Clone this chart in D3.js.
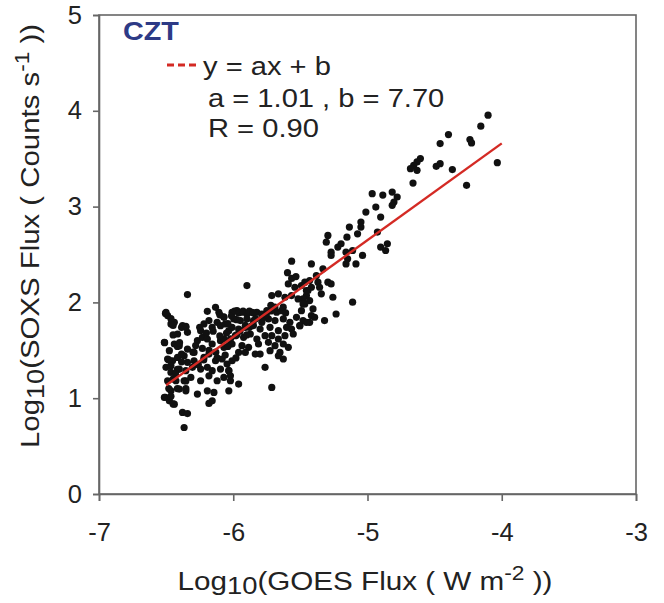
<!DOCTYPE html>
<html>
<head>
	<meta charset="utf-8">
	<title>SOXS vs GOES flux</title>
	<style type="text/css">
	body{
		margin:0;
		background:#fff;
	}
	text{
		font-family:"Liberation Sans", Arial, sans-serif;
		fill:#222;
	}
	</style>
	<script type="text/javascript" src="https://cdn.jsdelivr.net/npm/d3@7"></script>
</head>
<body>
<script type="text/javascript">
	var width = 664;
	var height = 603;

	// log10 GOES flux (W m^-2)
	var goesLog = [
		// sparse upper part
		-4.102,-4.156,-4.397,-4.459,-4.237,-4.225,-4.033,-4.368,-4.262,-4.459,-4.488,-4.606,-4.631,-4.656,-4.680,-4.631,-4.661,-4.816,-4.779,-4.803,-4.816,
		-4.938,-5.012,-4.902,-5.049,-5.049,-5.135,-5.074,-5.295,-5.307,-5.153,-5.197,-5.221,-5.271,-5.271,-5.160,-5.111,-5.148,-5.160,-5.086,-5.037,-4.926,-4.902,-4.852,-4.865,
		-5.418,-5.332,-5.381,-5.467,-5.431,-5.418,-5.443,-5.455,-5.431,-5.467,-5.492,-5.369,-5.357,-5.344,-5.295,-5.271,-5.258,-5.111,-5.406,-5.418,-5.394,-5.320,-5.431,-5.504,-5.234,-5.480,
		-4.965,-4.886,-5.565,-5.596,-5.565,-5.533,
		// left part of the cloud
		-6.341,-6.501,-6.489,-6.132,-6.193,-6.107,-6.070,-6.439,-6.378,-6.353,-6.341,-6.415,-6.464,-6.513,-6.439,-6.402,-6.476,-6.341,-6.292,-6.243,
		-6.218,-6.181,-6.157,-6.120,-6.095,-6.058,-6.033,-6.267,-6.230,-6.193,-6.157,-6.095,-6.070,-6.021,-6.489,-6.452,-6.415,-6.366,-6.341,-6.292,
		-6.218,-6.181,-6.132,-6.083,-6.046,-6.501,-6.464,-6.402,-6.353,-6.304,-6.243,-6.193,-6.157,-6.095,-6.033,-6.489,-6.427,-6.366,-6.316,-6.243,
		-6.181,-6.120,-6.070,-6.021,-6.464,-6.402,-6.353,-6.267,-6.193,-6.144,-6.033,-6.513,-6.476,-6.439,-6.378,-6.341,-6.181,-6.157,-6.366,
		-6.505,-6.464,-6.448,-6.480,-6.464,-6.416,-6.385,-6.448,-6.353,-6.385,-6.416,-6.448,-6.385,-6.353,-6.511,-6.505,-6.480,-6.416,-6.353,-6.464,-6.448,
		// middle part of the cloud
		-5.898,-5.590,-5.541,-5.492,-5.455,-5.713,-5.664,-5.615,-5.566,-5.517,-5.480,-6.009,-5.972,-5.935,-5.898,-5.861,-5.824,-5.787,-5.750,-5.713,
		-5.677,-5.640,-5.996,-5.947,-5.898,-5.849,-5.787,-5.738,-5.689,-5.627,-5.578,-5.529,-5.480,-6.009,-5.960,-5.910,-5.861,-5.800,-5.726,-5.664,
		-5.603,-5.566,-5.504,-5.455,-5.984,-5.923,-5.873,-5.824,-5.763,-5.713,-5.664,-5.615,-5.553,-6.009,-5.935,-5.886,-5.812,-5.738,-5.689,-5.627,
		-5.590,-5.960,-5.910,-5.836,-5.726,-5.652,-5.627,-6.009,-5.800,-5.664,-5.763,-5.713,-5.960,-6.033,-6.021,
		-6.013,-5.990,-5.960,-5.927,-5.880,-5.850,-5.833,-5.975,-6.040,-6.070,-6.100,-5.910,-5.880,-5.785,-5.754,-5.720,-5.690,-5.720,-5.628,-5.610,
		-5.975,-6.020,-6.070,-6.040,
		// extra points in the dense core
		-6.250,-6.200,-6.150,-6.100,-6.050,-6.280,-6.230,-6.180,-6.130,-5.950,-5.900,-5.850,-6.300,-6.260,-6.220,-6.120,-6.060,-5.980,-6.400,-6.430
	];
	// log10 SOXS flux (counts s^-1), same order
	var soxsLog = [
		3.954,3.839,3.752,3.658,3.700,3.665,3.459,3.386,3.222,3.448,3.420,3.501,3.466,3.431,3.396,3.379,3.246,3.152,3.100,3.048,3.013,
		2.995,2.943,2.891,2.838,2.786,2.786,2.716,2.699,2.629,2.681,2.612,2.577,2.524,2.490,2.524,2.542,2.455,2.402,2.402,2.490,2.734,2.577,2.612,2.542,
		2.402,2.350,2.280,2.211,2.228,2.158,2.124,2.071,2.019,1.984,1.914,2.211,2.158,2.089,2.211,2.193,2.054,2.002,1.932,1.862,1.845,1.810,1.792,1.757,1.879,2.036,
		3.135,3.120,2.430,2.310,2.250,2.270,
		2.082,1.897,1.862,1.949,1.907,1.897,1.844,1.792,1.757,1.740,1.688,1.670,1.775,1.583,1.566,1.548,1.496,1.513,1.478,1.705,
		1.775,1.810,1.740,1.792,1.757,1.775,1.705,1.600,1.635,1.618,1.566,1.600,1.531,1.566,1.409,1.391,1.426,1.443,1.374,1.391,
		1.426,1.461,1.391,1.409,1.356,1.322,1.269,1.304,1.287,1.322,1.304,1.322,1.287,1.304,1.287,1.182,1.182,1.182,1.217,1.182,
		1.234,1.182,1.217,1.182,1.077,1.095,1.077,1.043,1.077,1.060,1.077,1.008,0.973,0.938,0.851,0.840,0.945,0.973,0.694,
		1.885,1.830,1.760,1.400,1.340,1.300,1.380,1.200,1.180,1.460,1.540,1.660,1.740,1.750,1.580,1.010,1.100,1.100,1.100,1.020,0.940,
		2.176,2.193,2.158,2.176,2.123,2.071,2.089,2.054,2.071,2.036,1.984,1.897,1.914,1.897,1.879,1.897,1.897,1.879,1.914,1.932,
		1.897,1.914,1.827,1.810,1.827,1.810,1.792,1.827,1.810,1.827,1.792,1.844,1.810,1.740,1.722,1.740,1.757,1.722,1.740,1.705,
		1.740,1.722,1.757,1.792,1.653,1.635,1.670,1.618,1.653,1.653,1.618,1.653,1.670,1.566,1.548,1.531,1.566,1.583,1.548,1.566,
		1.531,1.478,1.478,1.461,1.496,1.478,1.409,1.391,1.461,1.443,1.322,1.112,1.147,1.287,1.234,
		1.860,1.910,1.890,1.910,1.910,1.890,1.830,1.820,1.780,1.850,1.870,1.760,1.740,1.830,1.870,1.910,1.950,1.970,1.950,1.890,
		1.660,1.620,1.620,1.540,
		1.740,1.680,1.700,1.650,1.680,1.550,1.520,1.500,1.480,1.700,1.660,1.760,1.480,1.350,1.400,1.420,1.450,1.420,1.580,1.250
	];

	// fit from the legend
	var fitA = 1.01, fitB = 7.70;
	var fitX = [-6.5, -4.0];
	var xTicks = [-7, -6, -5, -4, -3];
	var yTicks = [0, 1, 2, 3, 4, 5];

	var margin = {left:99, right:28, top:15, bottom:109};
	var plotW = width - margin.left - margin.right;
	var plotH = height - margin.top - margin.bottom;

	var svg = d3.select("body")
				.append("svg")
				.attr("width", width)
				.attr("height", height);

	var x = d3.scaleLinear().domain([-7, -3]).range([0, plotW]);
	var y = d3.scaleLinear().domain([0, 5]).range([plotH, 0]);

	var g = svg.append("g")
			.attr("transform", "translate(" + margin.left + "," + margin.top + ")");

	//frame
	g.append("rect")
		.attr("width", plotW)
		.attr("height", plotH)
		.attr("fill", "none")
		.attr("stroke", "#666")
		.attr("stroke-width", 1.6);

	var xAxis = g.append("g")
		.attr("transform", "translate(0," + plotH + ")")
		.call(d3.axisBottom(x).tickValues(xTicks).tickSize(7).tickPadding(22).tickFormat(function(d){ return String(d); }));
	var yAxis = g.append("g")
		.call(d3.axisLeft(y).tickValues(yTicks).tickSize(6).tickPadding(11).tickFormat(function(d){ return String(d); }));

	[xAxis, yAxis].forEach(function(a){
		a.select(".domain").attr("stroke", "#666").attr("stroke-width", 1.6);
		a.selectAll(".tick line").attr("stroke", "#666").attr("stroke-width", 1.6);
		a.selectAll(".tick text")
			.style("font-family", "'Liberation Sans', Arial, sans-serif")
			.style("font-size", "25.5px")
			.attr("fill", "#222");
	});

	//points
	g.append("g")
		.selectAll("circle")
		.data(d3.range(goesLog.length))
		.enter()
		.append("circle")
		.attr("cx", function(i){ return x(goesLog[i]); })
		.attr("cy", function(i){ return y(soxsLog[i]); })
		.attr("r", 3.6)
		.attr("fill", "#111");

	//fit line
	g.append("line")
		.attr("x1", x(fitX[0])).attr("y1", y(fitA*fitX[0] + fitB))
		.attr("x2", x(fitX[1])).attr("y2", y(fitA*fitX[1] + fitB))
		.attr("stroke", "#d42a24")
		.attr("stroke-width", 2.4);

	// text is a bit wider in the original, so stretch it horizontally
	function wideText(tf, sx, size, anchor){
		return svg.append("g")
			.attr("transform", tf + " scale(" + sx + ",1)")
			.append("text")
			.attr("text-anchor", anchor || "start")
			.style("font-size", size + "px");
	}

	//legend
	wideText("translate(123,40)", 1.15, 25)
		.style("font-weight", "bold")
		.style("fill", "#2d3a86")
		.text("CZT");
	svg.append("line")
		.attr("x1", 167).attr("x2", 197).attr("y1", 65).attr("y2", 65)
		.attr("stroke", "#d42a24")
		.attr("stroke-width", 3)
		.attr("stroke-dasharray", "7,4");
	wideText("translate(203,75)", 1.12, 26).text("y = ax + b");
	wideText("translate(208,107)", 1.12, 26).text("a = 1.01 , b = 7.70");
	wideText("translate(208,137)", 1.12, 26).text("R = 0.90");

	//axis titles
	var xt = wideText("translate(365,590)", 1.14, 26, "middle");
	xt.append("tspan").text("Log");
	xt.append("tspan").attr("dy", 4).style("font-size", "24px").text("10");
	xt.append("tspan").attr("dy", -4).text("(GOES Flux ( W m");
	xt.append("tspan").attr("dy", -10).style("font-size", "20px").text("-2");
	xt.append("tspan").attr("dy", 10).text(" ))");

	var yt = wideText("translate(39,236) rotate(-90)", 1.13, 26, "middle");
	yt.append("tspan").text("Log");
	yt.append("tspan").attr("dy", 5).style("font-size", "24px").text("10");
	yt.append("tspan").attr("dy", -5).text("(SOXS Flux ( Counts s");
	yt.append("tspan").attr("dy", -10).style("font-size", "20px").text("-1");
	yt.append("tspan").attr("dy", 10).text(" ))");
</script>
</body>
</html>
